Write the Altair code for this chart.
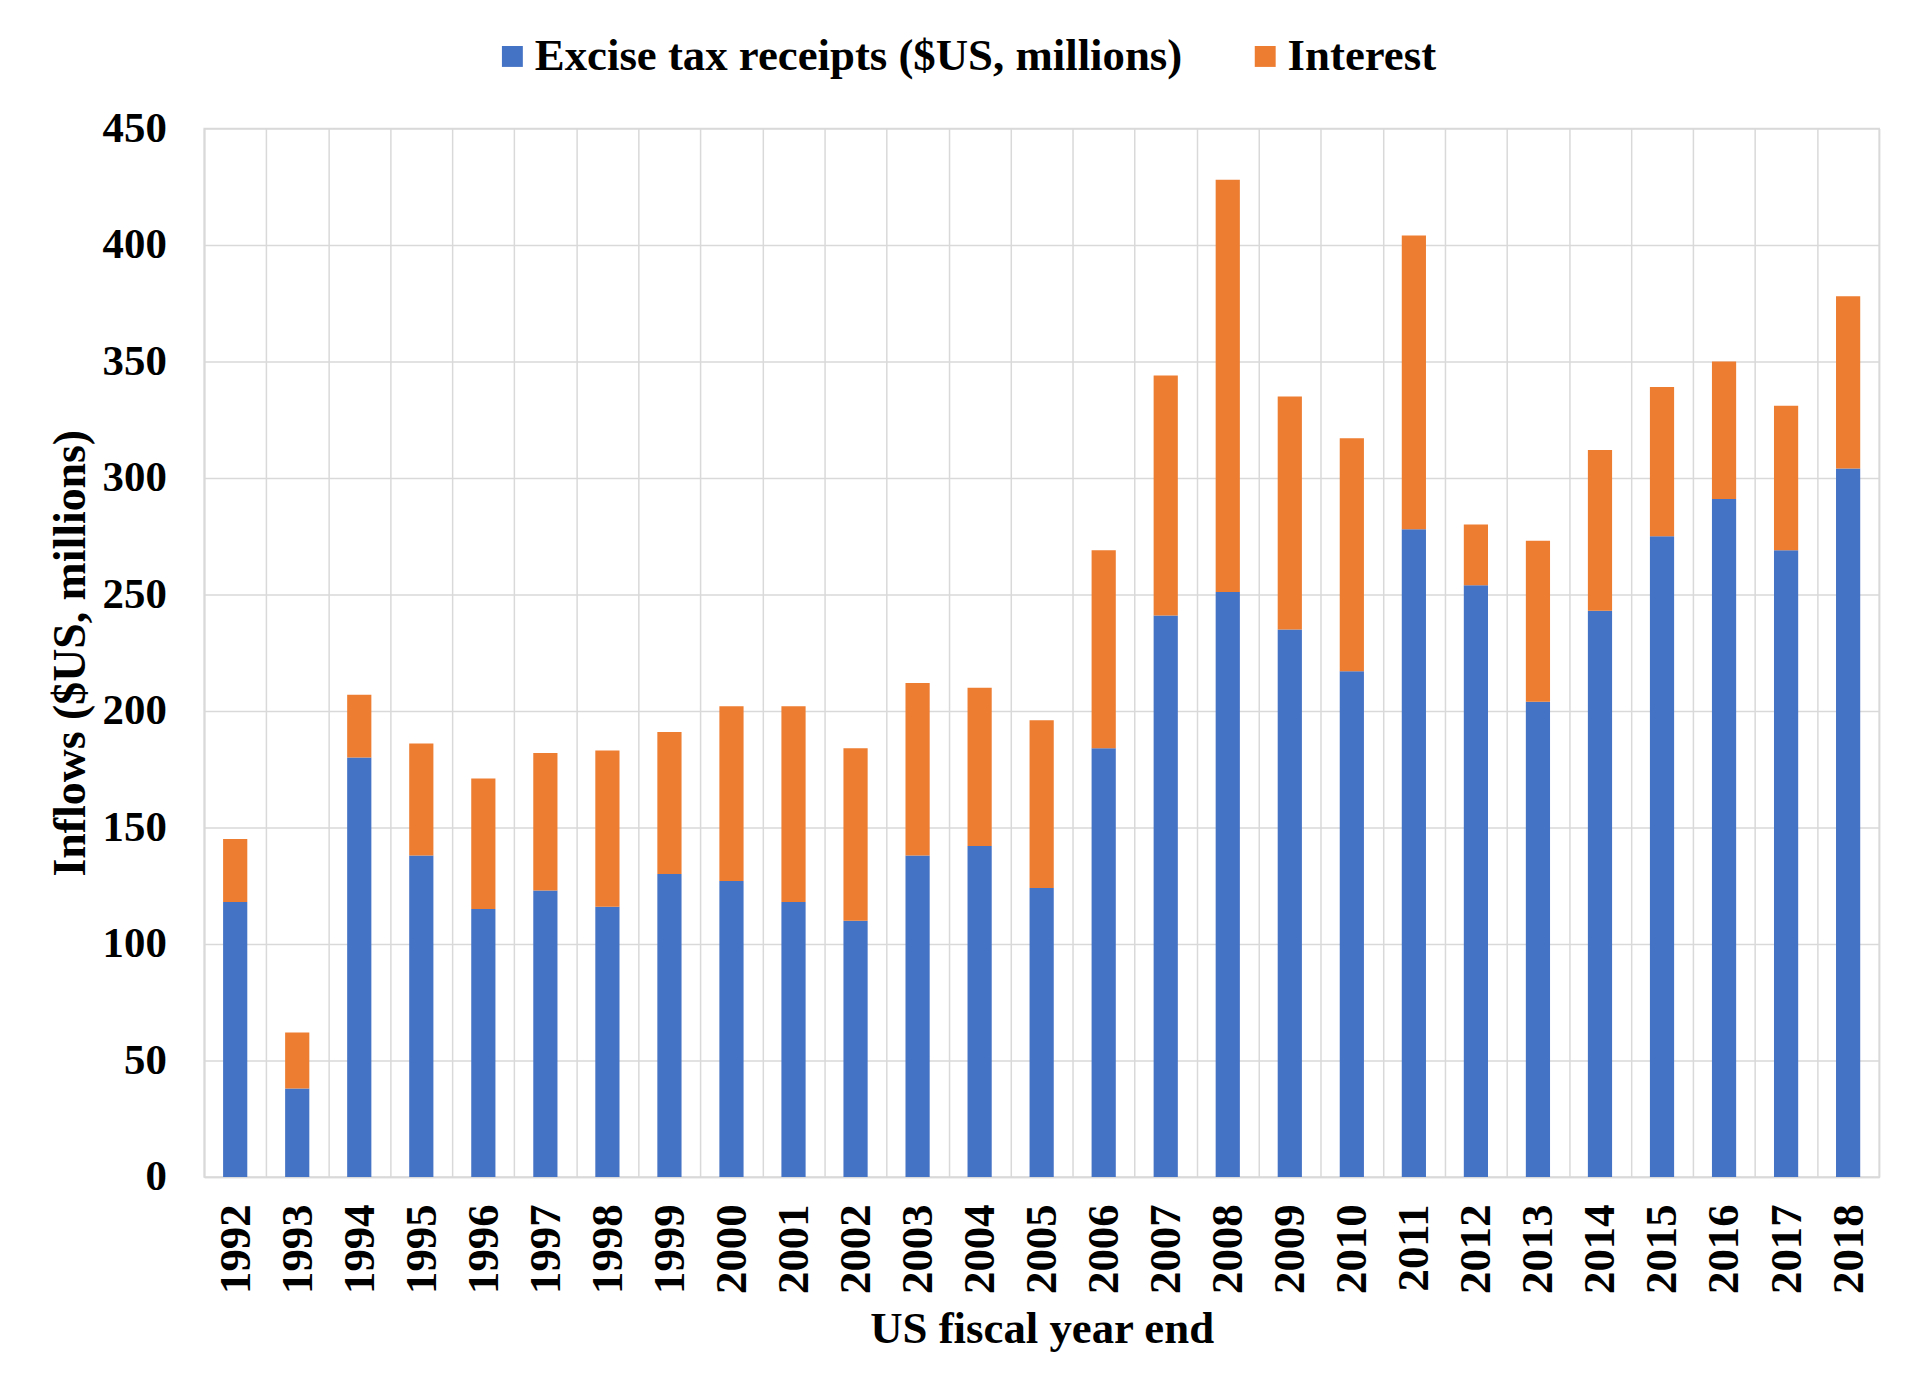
import altair as alt
import pandas as pd

years = ["1992", "1993", "1994", "1995", "1996", "1997", "1998", "1999", "2000",
         "2001", "2002", "2003", "2004", "2005", "2006", "2007", "2008", "2009",
         "2010", "2011", "2012", "2013", "2014", "2015", "2016", "2017", "2018"]
excise = [118, 38, 180, 138, 115, 123, 116, 130, 127, 118, 110, 138, 142, 124,
          184, 241, 251, 235, 217, 278, 254, 204, 243, 275, 291, 269, 304]
interest = [27, 24, 27, 48, 56, 59, 67, 61, 75, 84, 74, 74, 68, 72,
            85, 103, 177, 100, 100, 126, 26, 69, 69, 64, 59, 62, 74]
y_ticks = [0, 50, 100, 150, 200, 250, 300, 350, 400, 450]

S1 = "Excise tax receipts ($US, millions)"
S2 = "Interest"
series_names = [S1, S2]
series_colors = ["#4472C4", "#ED7D31"]

rows = []
for i, yr in enumerate(years):
    rows.append({"year": yr, "series": S1, "value": excise[i], "ord": 0})
    rows.append({"year": yr, "series": S2, "value": interest[i], "ord": 1})
df = pd.DataFrame(rows)

FONT = "Liberation Serif"
GRID = "#d9d9d9"

chart = alt.Chart(df).mark_bar(width=alt.RelativeBandSize(0.39)).encode(
    x=alt.X(
        "year:O",
        sort=years,
        title="US fiscal year end",
        scale=alt.Scale(paddingInner=0, paddingOuter=0),
        axis=alt.Axis(
            labelAngle=-90,
            tickBand="extent",
            grid=True,
            gridColor=GRID,
            gridWidth=1.5,
            ticks=False,
            domainColor=GRID,
            domainWidth=1.5,
            labelFont=FONT,
            labelFontSize=45,
            labelFontWeight="bold",
            labelColor="#000000",
            labelPadding=27,
            titleFont=FONT,
            titleFontSize=45,
            titleFontWeight="bold",
            titleColor="#000000",
            titlePadding=13,
        ),
    ),
    y=alt.Y(
        "value:Q",
        stack="zero",
        title="Inflows ($US, millions)",
        scale=alt.Scale(domain=[0, 450], nice=False),
        axis=alt.Axis(
            values=y_ticks,
            grid=True,
            gridColor=GRID,
            gridWidth=1.5,
            ticks=False,
            domainColor=GRID,
            domainWidth=1.5,
            labelFont=FONT,
            labelFontSize=43,
            labelFontWeight="bold",
            labelColor="#000000",
            labelPadding=38,
            titleFont=FONT,
            titleFontSize=46,
            titleFontWeight="bold",
            titleColor="#000000",
            titlePadding=8,
        ),
    ),
    color=alt.Color(
        "series:N",
        scale=alt.Scale(domain=series_names, range=series_colors),
        legend=alt.Legend(
            title=None,
            orient="none",
            legendX=287,
            legendY=-95,
            direction="horizontal",
            symbolType="square",
            symbolSize=441,
            symbolStrokeWidth=0,
            labelFont=FONT,
            labelFontSize=45,
            labelFontWeight="bold",
            labelColor="#000000",
            labelLimit=1000,
            labelOffset=0,
            columnPadding=60,
        ),
    ),
    order=alt.Order("ord:Q"),
).properties(
    width=1682,
    height=1053,
    autosize=alt.AutoSizeParams(type="none"),
    padding={"left": 197, "top": 118, "right": 33, "bottom": 216},
    background="white",
).configure_view(stroke=GRID, strokeWidth=1.5)

chart.save("out.html", embed_options={"renderer": "svg", "actions": False})
